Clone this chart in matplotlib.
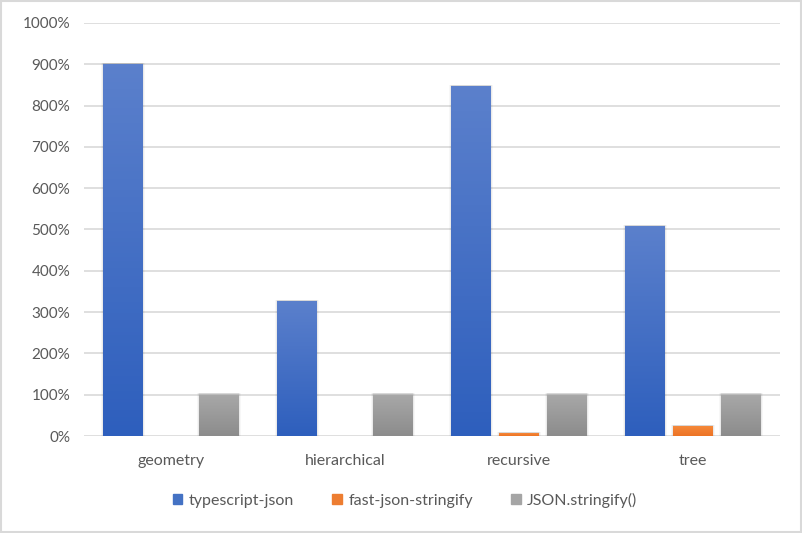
import numpy as np
import matplotlib.pyplot as plt
from matplotlib.patches import Rectangle
from matplotlib.colors import LinearSegmentedColormap

plt.rcParams['font.family'] = ['Lato', 'DejaVu Sans']

categories = ['geometry', 'hierarchical', 'recursive', 'tree']
series = ['typescript-json', 'fast-json-stringify', 'JSON.stringify()']
typescript_json = [901, 327, 847, 508]
fast_json_stringify = [0.3, 0.2, 7, 24]
json_stringify = [100, 100, 100, 100]
yticks = list(range(0, 1001, 100))

values = [typescript_json, fast_json_stringify, json_stringify]
# (top colour, bottom colour)
grads = [('#5b80cc', '#2e5fbd'), ('#f5883a', '#ec7425'), ('#a8a8a8', '#8c8c8c')]
legend_cols = ['#4472c4', '#ed7d31', '#a5a5a5']

fig = plt.figure(figsize=(8.02, 5.33), dpi=100)
ax = fig.add_axes([84 / 802, 1 - 436 / 533, 696 / 802, 413 / 533])

x = np.arange(len(categories))
width = 0.225
offsets = [-0.276, 0, 0.276]

for vals, (top, bot), off in zip(values, grads, offsets):
    cmap = LinearSegmentedColormap.from_list('g', [bot, top])
    for xi, v in zip(x, vals):
        left = xi + off - width / 2
        # soft shadow, a few widening layers (skip for near-zero bars)
        if v > 2:
            for k, a in [(0.004, 0.08), (0.009, 0.05), (0.014, 0.03)]:
                ax.add_patch(Rectangle((left - k, 0), width + 2 * k, v + 3, color='#000000',
                                       alpha=a, lw=0, zorder=2))
        rect = Rectangle((left, 0), width, v, facecolor='none', lw=0, zorder=3)
        ax.add_patch(rect)
        im = ax.imshow(np.linspace(0, 1, 100).reshape(-1, 1), cmap=cmap,
                       origin='lower', extent=[left, left + width, 0, max(v, 0.01)],
                       aspect='auto', zorder=3)
        im.set_clip_path(rect)

ax.set_xlim(-0.5, len(categories) - 0.5)
ax.set_ylim(0, 1000)
ax.set_yticks(yticks)
ax.set_yticklabels([f'{t}%' for t in yticks])
ax.set_xticks(x)
ax.set_xticklabels(categories)
ax.grid(axis='y', color='#d9d9d9', lw=1.2, zorder=0)
ax.set_axisbelow(True)
for s in ax.spines.values():
    s.set_visible(False)
ax.tick_params(length=0, colors='#595959', labelsize=11)
ax.tick_params(axis='x', labelsize=11.5, pad=13)
ax.tick_params(axis='y', pad=10)

handles = [Rectangle((0, 0), 1, 1, color=c) for c in legend_cols]
leg = fig.legend(handles, series, loc='center', bbox_to_anchor=(405 / 802, 1 - 500 / 533),
                 ncol=3, frameon=False, fontsize=11.5, handlelength=0.6, handleheight=0.6,
                 handletextpad=0.4, columnspacing=2.4)
for t in leg.get_texts():
    t.set_color('#595959')

fig.patches.append(Rectangle((0.001, 0.001), 0.998, 0.997, transform=fig.transFigure,
                             fill=False, edgecolor='#d9d9d9', lw=1.5))

fig.savefig('out.png', dpi=100)
